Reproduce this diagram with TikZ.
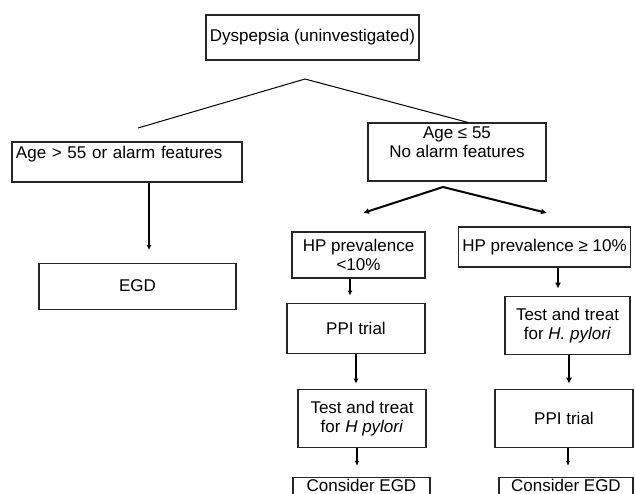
\documentclass[tikz,border=0pt]{standalone}
\usepackage{fontspec}
\setmainfont{Liberation Sans}
\usetikzlibrary{positioning,arrows.meta}

\begin{document}
\begin{tikzpicture}[x=1pt,y=-1pt,
  box/.style={draw=black!85, line width=1.1pt, inner sep=4pt, align=center, font=\fontsize{17}{19}\selectfont},
  link/.style={line width=1pt},
  arr/.style={line width=1.1pt,-{Latex[length=5pt,width=5pt]}},
  fatarr/.style={line width=2pt,-{Latex[length=6pt,width=6pt]}}]
\useasboundingbox (0,0) rectangle (635,493);
\clip (0,0) rectangle (635,493);

\node[box, minimum width=211pt, minimum height=45pt] (a1) at (312.5,37.5) {Dyspepsia (uninvestigated)};
\node[box, minimum width=230pt, minimum height=40pt, align=left, text width=222pt] (b1) at (127,162) {Age > 55 or alarm features\\~};
\node[box, minimum width=178pt, minimum height=58pt] (b2) at (457,152) {Age ≤ 55\\No alarm features\\~};
\node[box, minimum width=197pt, minimum height=46pt, below=80pt of b1, xshift=10.5pt] (c1) {EGD};
%left column
\node[box, minimum width=133pt, minimum height=46pt] (l1) at (358.5,255) {HP prevalence\\<10\%};
\node[box, minimum width=138pt, minimum height=50pt, below=24pt of l1, xshift=-2.5pt] (l2) {PPI trial};
\node[box, minimum width=128pt, minimum height=58pt, below=35pt of l2, xshift=6pt] (l3) {Test and treat\\for \textit{H pylori}};
\node[box, minimum width=137pt, inner ysep=1.5pt, below=29pt of l3, xshift=-0.5pt] (l4) {Consider EGD\\~};
%right column
\node[box, minimum width=171pt, minimum height=40pt] (r1) at (544.5,247) {HP prevalence ≥ 10\%};
\node[box, minimum width=125pt, minimum height=58pt, below=28pt of r1, xshift=23pt] (r2) {Test and treat\\for \textit{H. pylori}};
\node[box, minimum width=138pt, minimum height=58pt, below=34pt of r2, xshift=-3.5pt] (r3) {PPI trial};
\node[box, minimum width=134pt, inner ysep=1.5pt, below=29pt of r3, xshift=2pt] (r4) {Consider EGD\\~};

\coordinate (s1) at (305,79);
\coordinate (s1l) at (138,128);
\coordinate (s2) at (443,187);
\coordinate (t1) at (363,213);
\coordinate (t2) at (547,213);
\coordinate (t0) at (149,250);

\draw[link] (s1l) -- (s1) -- ([xshift=11pt]b2.north);
\draw[arr] (t0 |- b1.south) -- (t0);
\draw[fatarr] (s2) -- (t1);
\draw[fatarr] (s2) -- (t2);
\draw[arr] ([xshift=-8.5pt]l1.south) -- ([xshift=-6pt,yshift=7pt]l2.north);
\draw[arr] (l2.south) -- ([xshift=-6pt,yshift=5pt]l3.north);
\draw[arr] ([xshift=-5pt]l3.south) -- ([xshift=-4.5pt,yshift=11pt]l4.north);
\draw[fatarr] ([xshift=13.5pt]r1.south) -- ([xshift=-9.5pt,yshift=7pt]r2.north);
\draw[fatarr] ([xshift=1.5pt]r2.south) -- ([xshift=5pt,yshift=5pt]r3.north);
\draw[arr] ([xshift=4pt]r3.south) -- ([xshift=2pt,yshift=11pt]r4.north);
\end{tikzpicture}
\end{document}
